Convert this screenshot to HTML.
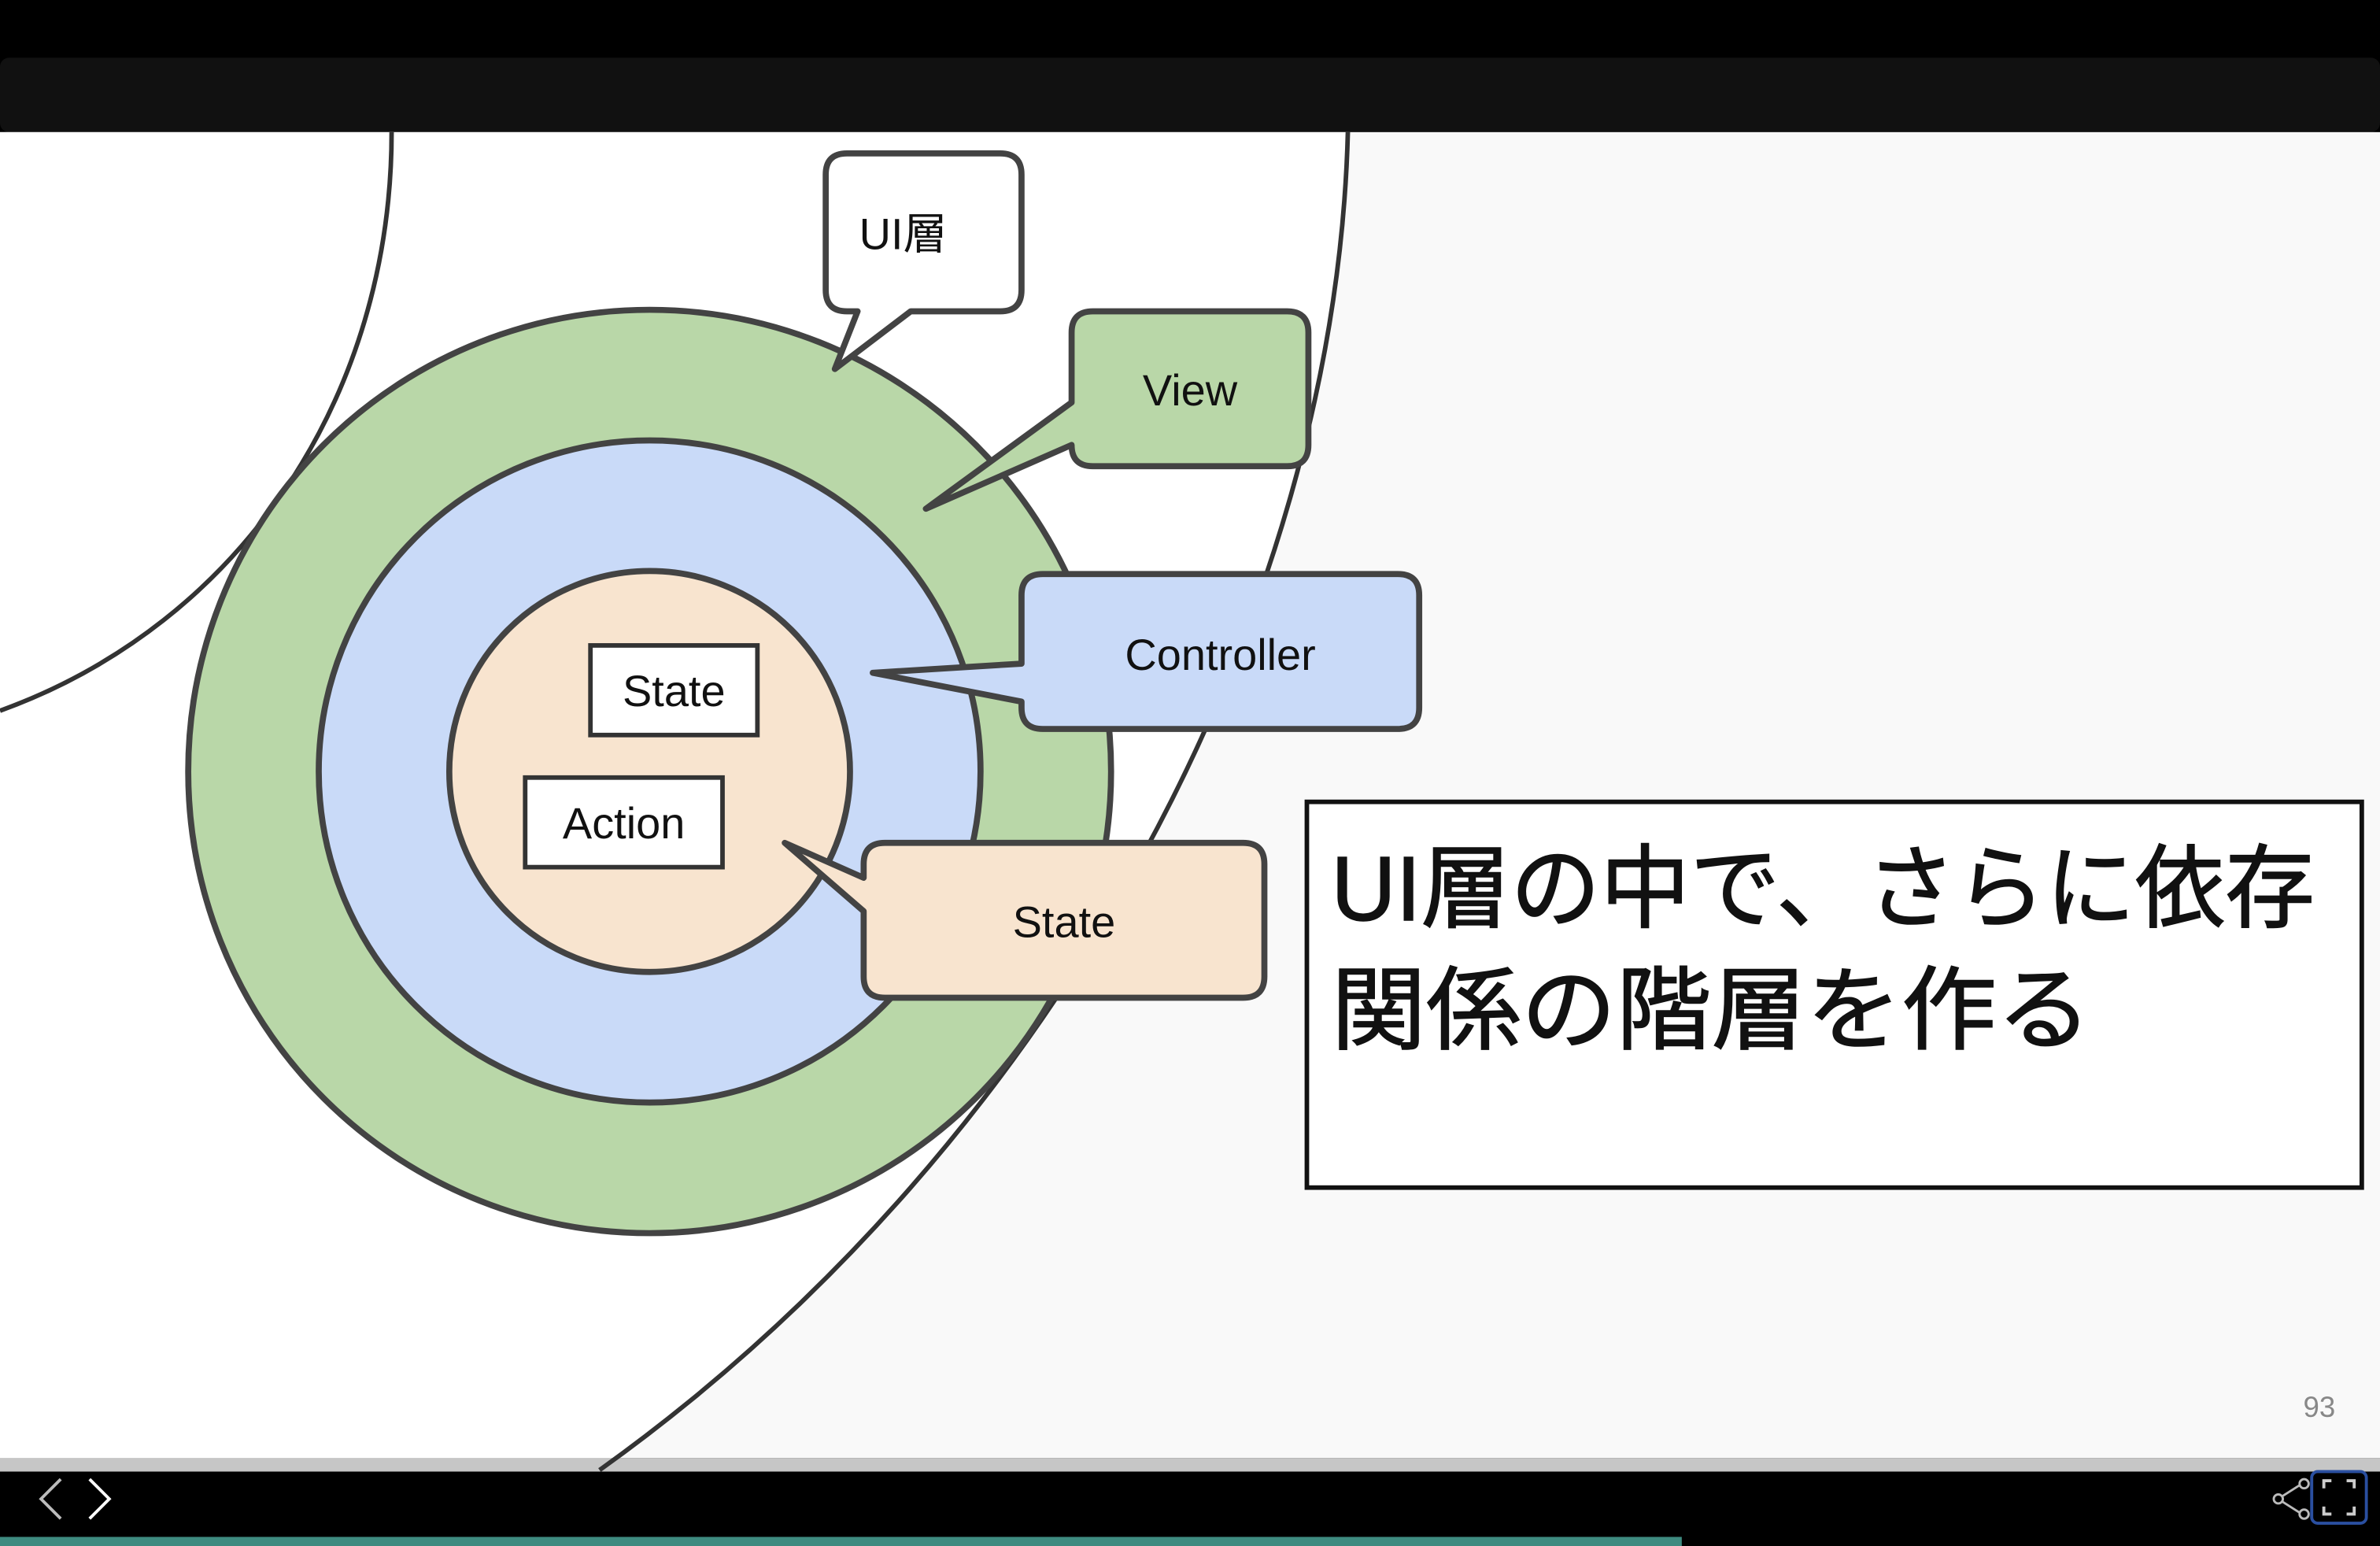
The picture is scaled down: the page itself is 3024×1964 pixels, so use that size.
<!DOCTYPE html>
<html><head><meta charset="utf-8"><style>
html,body{margin:0;padding:0;background:#000;}
svg{display:block;}
text{font-family:"Liberation Sans","Noto Sans CJK JP",sans-serif;}
</style></head><body>
<svg width="3024" height="1964" viewBox="0 0 1568 1018" preserveAspectRatio="none" xmlns="http://www.w3.org/2000/svg">
<rect x="0" y="0" width="1568" height="1018" fill="#000"/>
<rect x="0" y="38" width="1568" height="49" rx="6" fill="#111"/>
<rect x="0" y="87" width="1568" height="873" fill="#f9f9f9"/>
<path d="M0,87 L888,87 C880,400 700,750 395,968 L0,968 Z" fill="#fff"/>
<rect x="0" y="960" width="1568" height="9" fill="#c6c6c6"/>
<path d="M888,87 C880,400 700,750 395,968" fill="none" stroke="#333" stroke-width="3"/>
<path d="M258,87 C258,260 160,410 0,468" fill="none" stroke="#333" stroke-width="3"/>
<g stroke="#434343" stroke-width="4">
<circle cx="428" cy="508" r="304" fill="#b9d7a8"/>
<circle cx="428" cy="508" r="218" fill="#c9daf8"/>
<circle cx="428" cy="508" r="132" fill="#f8e4cf"/>
</g>
<g stroke="#434343" stroke-width="4" stroke-linejoin="round">
<path d="M558,101 H659 Q673,101 673,115 V191 Q673,205 659,205 H600 L550,243 L565,205 H558 Q544,205 544,191 V115 Q544,101 558,101 Z" fill="#fff"/>
<path d="M720,205 H848 Q862,205 862,219 V293 Q862,307 848,307 H720 Q706,307 706,293 L610,335 L706,265 V219 Q706,205 720,205 Z" fill="#b9d7a8"/>
<path d="M687,378 H921 Q935,378 935,392 V466 Q935,480 921,480 H687 Q673,480 673,466 V462 L575,443 L673,437 V392 Q673,378 687,378 Z" fill="#c9daf8"/>
<path d="M583,555 H819 Q833,555 833,569 V643 Q833,657 819,657 H583 Q569,657 569,643 V600 L517,555 L569,578 V569 Q569,555 583,555 Z" fill="#f8e4cf"/>
</g>
<rect x="389" y="425" width="110" height="59" fill="#fff" stroke="#333" stroke-width="3"/>
<rect x="346" y="512" width="130" height="59" fill="#fff" stroke="#333" stroke-width="3"/>
<g font-size="29" fill="#111" text-anchor="middle">
<text x="444" y="465">State</text>
<text x="411" y="552">Action</text>
<text x="595" y="164">UI層</text>
<text x="784" y="267">View</text>
<text x="804" y="441">Controller</text>
<text x="701" y="617">State</text>
</g>
<rect x="861" y="528" width="695" height="254" fill="#fff" stroke="#111" stroke-width="3"/>
<g font-size="60" fill="#111" stroke="#111" stroke-width="0.8">
<text x="877" y="606" textLength="648" lengthAdjust="spacingAndGlyphs">UI層の中で、さらに依存</text>
<text x="877" y="686" textLength="501" lengthAdjust="spacingAndGlyphs">関係の階層を作る</text>
</g>
<text x="1528" y="933" font-size="19" fill="#888" text-anchor="middle">93</text>
<path d="M40,974 L27,987 L40,1000" fill="none" stroke="#bbb" stroke-width="2"/>
<path d="M59,974 L72,987 L59,1000" fill="none" stroke="#fff" stroke-width="2"/>
<g fill="none" stroke="#bbb" stroke-width="1.5">
<circle cx="1501" cy="987" r="3"/><circle cx="1518" cy="977" r="3"/><circle cx="1518" cy="997" r="3"/>
<path d="M1504,985 L1515,978 M1504,989 L1515,996"/>
</g>
<rect x="1523" y="969" width="36" height="34" rx="4" fill="#000" stroke="#2a4fa0" stroke-width="2"/>
<path d="M1531,980 V975 H1536 M1546,975 H1551 V980 M1551,992 V997 H1546 M1536,997 H1531 V992" fill="none" stroke="#ccc" stroke-width="2"/>
<rect x="0" y="1012" width="1108" height="6" fill="#3e8b80"/>
</svg>
</body></html>
